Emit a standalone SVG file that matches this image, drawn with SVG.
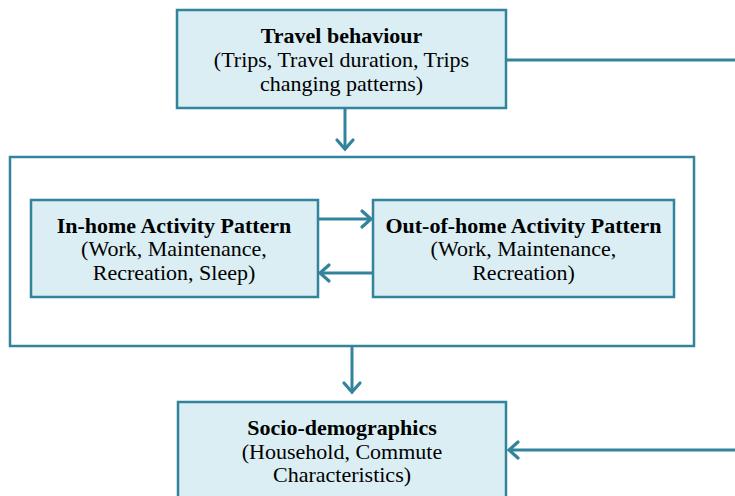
<svg xmlns="http://www.w3.org/2000/svg" width="735" height="496" viewBox="0 0 735 496">
  <defs>
    <marker id="head" markerUnits="userSpaceOnUse" markerWidth="24" markerHeight="24" viewBox="-12 -12 24 24" refX="0" refY="0" orient="auto" overflow="visible">
      <path d="M-9,-8 L0,0 L-9,8" fill="none" stroke="#31849b" stroke-width="3.2" stroke-linecap="round" stroke-linejoin="miter"/>
    </marker>
  </defs>
  <style>
    .box { fill: #daeef3; stroke: #31849b; stroke-width: 2.5; }
    .frame { fill: #ffffff; stroke: #31849b; stroke-width: 2.5; }
    .link { fill: none; stroke: #31849b; stroke-width: 3; }
    .arrow { fill: none; stroke: #31849b; stroke-width: 3; marker-end: url(#head); }
    text { font-family: "Liberation Serif", "Times New Roman", serif; font-size: 22px; fill: #000000; text-anchor: middle; }
    .title { font-weight: bold; }
  </style>

  <rect width="735" height="496" fill="#ffffff"/>

  <!-- Activity container -->
  <g id="activity-frame">
    <rect class="frame" x="10" y="157" width="684" height="189"/>
  </g>

  <g id="connectors">
    <path class="link" d="M506,60 H735"/>
    <path class="arrow" d="M345,108 V149"/>
    <path class="arrow" d="M318,219 H371"/>
    <path class="arrow" d="M373,273 H320"/>
    <path class="arrow" d="M352,346 V392"/>
    <path class="arrow" d="M735,450 H509"/>
  </g>

  <g id="travel-behaviour">
    <rect class="box" x="177" y="10" width="329" height="98"/>
    <text class="title" x="341.5" y="43">Travel behaviour</text>
    <text x="341.5" y="67">(Trips, Travel duration, Trips</text>
    <text x="341.5" y="91">changing patterns)</text>
  </g>

  <g id="in-home">
    <rect class="box" x="31" y="200" width="287" height="97"/>
    <text class="title" x="174" y="233">In-home Activity Pattern</text>
    <text x="174" y="256">(Work, Maintenance,</text>
    <text x="174" y="280">Recreation, Sleep)</text>
  </g>

  <g id="out-of-home">
    <rect class="box" x="373" y="200" width="301" height="97"/>
    <text class="title" x="523.5" y="233">Out-of-home Activity Pattern</text>
    <text x="523.5" y="256">(Work, Maintenance,</text>
    <text x="523.5" y="280">Recreation)</text>
  </g>

  <g id="socio-demographics">
    <rect class="box" x="178" y="402" width="328" height="110"/>
    <text class="title" x="342" y="435">Socio-demographics</text>
    <text x="342" y="459">(Household, Commute</text>
    <text x="342" y="482">Characteristics)</text>
  </g>
</svg>
